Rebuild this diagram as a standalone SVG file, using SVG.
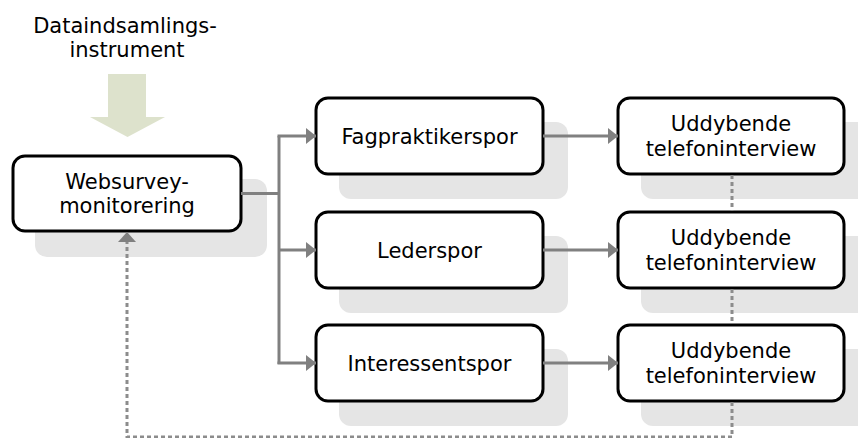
<svg xmlns="http://www.w3.org/2000/svg" width="858" height="438" viewBox="0 0 858 438">
<style>
.sh{fill:#e5e5e5}
.bx{fill:#fff;stroke:#000;stroke-width:3}
.t{font-family:"DejaVu Sans",Verdana,sans-serif;font-size:21px;fill:#000;text-anchor:middle}
.c{fill:none;stroke:#808080;stroke-width:3}
.d{fill:none;stroke:#8c8c8c;stroke-width:3;stroke-dasharray:4 3}
</style>
<defs>
<marker id="ah" viewBox="0 0 10 16" refX="10" refY="8" markerWidth="10" markerHeight="16" markerUnits="userSpaceOnUse" orient="auto">
<path d="M0,0 L10,8 L0,16 Z" fill="#808080"/>
</marker>
</defs>
<rect width="858" height="438" fill="#fff"/>
<g id="title">
<text class="t" x="125" y="33">Dataindsamlings-</text>
<text class="t" x="127" y="57">instrument</text>
<path d="M108,74 H146 V117 H165 L127.5,137 L90,117 H108 Z" fill="#dde2cc"/>
</g>
<g id="websurvey">
<rect class="sh" x="35" y="179" width="232" height="78" rx="12"/>
<rect class="bx" x="13" y="156" width="228" height="75" rx="12"/>
<text class="t" x="127" y="189">Websurvey-</text>
<text class="t" x="127" y="213">monitorering</text>
</g>
<g id="fagpraktikerspor">
<rect class="sh" x="339" y="122" width="229" height="77" rx="12"/>
<rect class="bx" x="316" y="98" width="227" height="76" rx="12"/>
<text class="t" x="429.5" y="143.5">Fagpraktikerspor</text>
</g>
<g id="lederspor">
<rect class="sh" x="339" y="236" width="229" height="77" rx="12"/>
<rect class="bx" x="316" y="212" width="227" height="76" rx="12"/>
<text class="t" x="429.5" y="257.5">Lederspor</text>
</g>
<g id="interessentspor">
<rect class="sh" x="339" y="349" width="229" height="77" rx="12"/>
<rect class="bx" x="316" y="325" width="227" height="76" rx="12"/>
<text class="t" x="429.5" y="370.5">Interessentspor</text>
</g>
<g id="uddybende1">
<rect class="sh" x="641" y="122" width="229" height="77" rx="12"/>
<rect class="bx" x="618" y="98" width="226" height="76" rx="12"/>
<text class="t" x="731" y="131">Uddybende</text>
<text class="t" x="731" y="155.5">telefoninterview</text>
</g>
<g id="uddybende2">
<rect class="sh" x="641" y="236" width="229" height="77" rx="12"/>
<rect class="bx" x="618" y="212" width="226" height="76" rx="12"/>
<text class="t" x="731" y="245">Uddybende</text>
<text class="t" x="731" y="269.5">telefoninterview</text>
</g>
<g id="uddybende3">
<rect class="sh" x="641" y="349" width="229" height="77" rx="12"/>
<rect class="bx" x="618" y="325" width="226" height="76" rx="12"/>
<text class="t" x="731" y="358">Uddybende</text>
<text class="t" x="731" y="382.5">telefoninterview</text>
</g>
<g id="connectors">
<path class="c" d="M241,193.5 H279"/>
<path class="c" d="M279,136 V364"/>
<path class="c" d="M277.5,136 H316" marker-end="url(#ah)"/>
<path class="c" d="M279,250 H316" marker-end="url(#ah)"/>
<path class="c" d="M277.5,363 H316" marker-end="url(#ah)"/>
<path class="c" d="M543,136 H618" marker-end="url(#ah)"/>
<path class="c" d="M543,250 H618" marker-end="url(#ah)"/>
<path class="c" d="M543,363 H618" marker-end="url(#ah)"/>
<path class="d" d="M732,175 V211"/>
<path class="d" d="M732,289 V324"/>
<path class="d" d="M732,402 V437 H127 V242"/>
<path d="M127,232 L136,242 L118,242 Z" fill="#808080"/>
</g>
</svg>
